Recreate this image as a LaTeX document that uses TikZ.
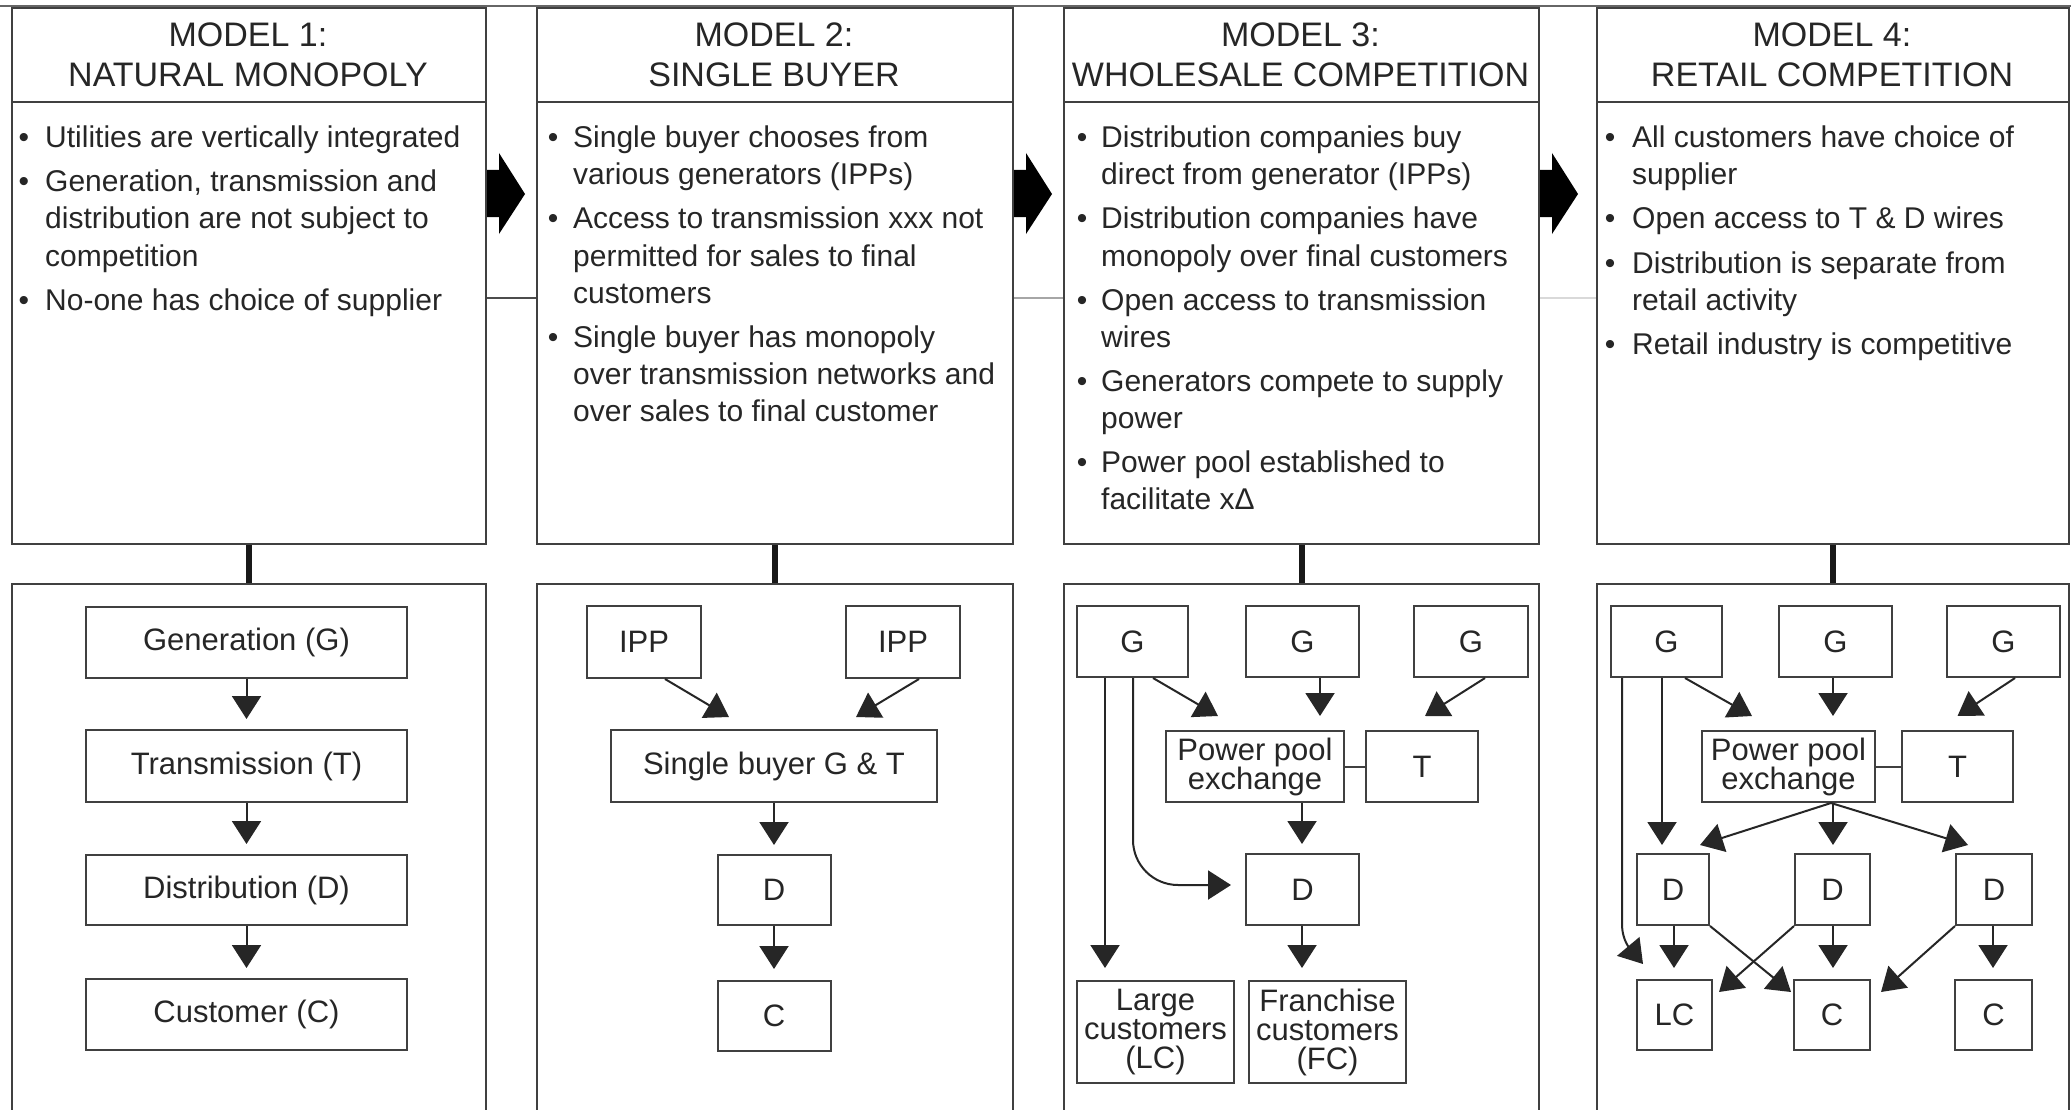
\documentclass[tikz,border=0pt]{standalone}
\usepackage{fontspec}
\setmainfont{Liberation Sans}
\usetikzlibrary{arrows.meta,calc}
\begin{document}
\begin{tikzpicture}[x=1pt,y=-1pt,
  ln/.style={draw=black!75, line width=2pt},
  panel/.style={ln, inner sep=0pt, anchor=north west},
  hdr/.style={anchor=base, inner sep=0pt, text=black!85, font=\fontsize{34}{40}\selectfont},
  itm/.style={anchor=base west, inner sep=0pt, text=black!85, font=\fontsize{30}{37}\selectfont},
  bul/.style={anchor=base, inner sep=0pt, text=black!85, font=\fontsize{30}{37}\selectfont},
  bx/.style={ln, inner sep=0pt, text=black!85, align=center, font=\fontsize{31}{29}\selectfont},
  arr/.style={draw=black!85, line width=2pt, -{Triangle[length=23pt,width=29pt]}},
  thickc/.style={draw=black!90, line width=6pt}
]
\useasboundingbox (0,0) rectangle (2071,1110);
\clip (0,0) rectangle (2071,1110);
\fill[white] (0,0) rectangle (2071,1110);

% top line
\draw[black!60, line width=2pt] (0,6) -- (2071,6);

% panels
\node[panel, minimum width=474, minimum height=536] (m1top) at (11,7) {};
\node[panel, minimum width=476, minimum height=536] (m2top) at (536,7) {};
\node[panel, minimum width=475, minimum height=536] (m3top) at (1063,7) {};
\node[panel, minimum width=472, minimum height=536] (m4top) at (1596,7) {};
\node[panel, minimum width=474, minimum height=545] (m1bot) at (11,583) {};
\node[panel, minimum width=476, minimum height=545] (m2bot) at (536,583) {};
\node[panel, minimum width=475, minimum height=545] (m3bot) at (1063,583) {};
\node[panel, minimum width=472, minimum height=545] (m4bot) at (1596,583) {};

% header dividers
\foreach \p in {m1top,m2top,m3top,m4top}
  \draw[ln] ([yshift=-95pt]\p.north west) -- ([yshift=-95pt]\p.north east);

% connectors top -> bottom
\foreach \i in {1,2,3,4}
  \draw[thickc] (m\i top.south) -- (m\i bot.north);

% horizontal links between panels
\draw[line width=2pt, black!70] ([yshift=-22pt]m1top.east) -- ([yshift=-22pt]m2top.west);
\draw[line width=2pt, black!35] ([yshift=-22pt]m2top.east) -- ([yshift=-22pt]m3top.west);
\draw[line width=2pt, black!15] ([yshift=-22pt]m3top.east) -- ([yshift=-22pt]m4top.west);

% block arrows
\foreach \r in {485,1012,1538}
  \fill[black] (\r+2,170) -- (\r+14,170) -- (\r+14,153) -- (\r+40,194) -- (\r+14,234) -- (\r+14,217) -- (\r+2,217) -- cycle;

% headers
\node[hdr] (m1h) at (248,47) {\parbox[t]{470pt}{\centering MODEL 1:\\NATURAL MONOPOLY}};
\node[hdr] (m2h) at (774,47) {\parbox[t]{470pt}{\centering MODEL 2:\\SINGLE BUYER}};
\node[hdr] (m3h) at (1300.5,47) {\parbox[t]{470pt}{\centering MODEL 3:\\WHOLESALE COMPETITION}};
\node[hdr] (m4h) at (1832,47) {\parbox[t]{470pt}{\centering MODEL 4:\\RETAIL COMPETITION}};

% bullets model 1
\node[bul] (m1b1) at (24,148) {•};
\node[itm] (m1i1) at (45,148) {\parbox[t]{460pt}{\raggedright Utilities are vertically integrated}};
\node[bul] (m1b2) at (24,192) {•};
\node[itm] (m1i2) at (45,192) {\parbox[t]{460pt}{\raggedright Generation, transmission and\\distribution are not subject to\\competition}};
\node[bul] (m1b3) at (24,310) {•};
\node[itm] (m1i3) at (45,310) {\parbox[t]{460pt}{\raggedright No-one has choice of supplier}};

% bullets model 2
\node[bul] (m2b1) at (553,148) {•};
\node[itm] (m2i1) at (573,148) {\parbox[t]{460pt}{\raggedright Single buyer chooses from\\various generators (IPPs)}};
\node[bul] (m2b2) at (553,229) {•};
\node[itm] (m2i2) at (573,229) {\parbox[t]{460pt}{\raggedright Access to transmission xxx not\\permitted for sales to final\\customers}};
\node[bul] (m2b3) at (553,347) {•};
\node[itm] (m2i3) at (573,347) {\parbox[t]{460pt}{\raggedright Single buyer has monopoly\\over transmission networks and\\over sales to final customer}};

% bullets model 3
\node[bul] (m3b1) at (1082,148) {•};
\node[itm] (m3i1) at (1101,148) {\parbox[t]{460pt}{\raggedright Distribution companies buy\\direct from generator (IPPs)}};
\node[bul] (m3b2) at (1082,229) {•};
\node[itm] (m3i2) at (1101,229) {\parbox[t]{460pt}{\raggedright Distribution companies have\\monopoly over final customers}};
\node[bul] (m3b3) at (1082,310) {•};
\node[itm] (m3i3) at (1101,310) {\parbox[t]{460pt}{\raggedright Open access to transmission\\wires}};
\node[bul] (m3b4) at (1082,391) {•};
\node[itm] (m3i4) at (1101,391) {\parbox[t]{460pt}{\raggedright Generators compete to supply\\power}};
\node[bul] (m3b5) at (1082,472) {•};
\node[itm] (m3i5) at (1101,472) {\parbox[t]{460pt}{\raggedright Power pool established to\\facilitate xΔ}};

% bullets model 4
\node[bul] (m4b1) at (1610,148) {•};
\node[itm] (m4i1) at (1632,148) {\parbox[t]{430pt}{\raggedright All customers have choice of\\supplier}};
\node[bul] (m4b2) at (1610,229) {•};
\node[itm] (m4i2) at (1632,229) {\parbox[t]{430pt}{\raggedright Open access to T \& D wires}};
\node[bul] (m4b3) at (1610,273) {•};
\node[itm] (m4i3) at (1632,273) {\parbox[t]{430pt}{\raggedright Distribution is separate from\\retail activity}};
\node[bul] (m4b4) at (1610,354) {•};
\node[itm] (m4i4) at (1632,354) {\parbox[t]{430pt}{\raggedright Retail industry is competitive}};

% ---------- Model 1 diagram
\node[bx, minimum width=321, minimum height=71] (m1g) at (246.5,642.5) {Generation (G)};
\node[bx, minimum width=321, minimum height=72] (m1t) at (246.5,766) {Transmission (T)};
\node[bx, minimum width=321, minimum height=70] (m1d) at (246.5,890) {Distribution (D)};
\node[bx, minimum width=321, minimum height=71] (m1c) at (246.5,1014.5) {Customer (C)};
\draw[arr, shorten >=10pt] (m1g.south) -- (m1t.north);
\draw[arr, shorten >=10pt] (m1t.south) -- (m1d.north);
\draw[arr, shorten >=10pt] (m1d.south) -- (m1c.north);

% ---------- Model 2 diagram
\node[bx, minimum width=114, minimum height=72] (m2ipp1) at (644,642) {IPP};
\node[bx, minimum width=114, minimum height=72] (m2ipp2) at (903,642) {IPP};
\node[bx, minimum width=326, minimum height=72] (m2sb) at (774,766) {Single buyer G \& T};
\node[bx, minimum width=113, minimum height=70] (m2d) at (774,890) {D};
\node[bx, minimum width=113, minimum height=70] (m2c) at (774,1016) {C};
\draw[arr] ([xshift=21pt]m2ipp1.south) -- ([xshift=-45pt,yshift=12pt]m2sb.north);
\draw[arr] ([xshift=16pt]m2ipp2.south) -- ([xshift=82pt,yshift=12pt]m2sb.north);
\draw[arr, shorten >=9pt] (m2sb.south) -- (m2d.north);
\draw[arr, shorten >=11pt] (m2d.south) -- (m2c.north);

% ---------- Model 3 diagram
\node[bx, minimum width=111, minimum height=71] (m3g1) at (1132.5,641.5) {G};
\node[bx, minimum width=113, minimum height=71] (m3g2) at (1302.5,641.5) {G};
\node[bx, minimum width=114, minimum height=71] (m3g3) at (1471,641.5) {G};
\node[bx, minimum width=178, minimum height=71] (m3pp) at (1255,766.5) {Power pool\\exchange};
\node[bx, minimum width=112, minimum height=71] (m3t) at (1422,766.5) {T};
\node[bx, minimum width=113, minimum height=71] (m3d) at (1302.5,889.5) {D};
\node[bx, minimum width=157, minimum height=102] (m3lc) at (1155.5,1032) {Large\\customers\\(LC)};
\node[bx, minimum width=157, minimum height=102] (m3fc) at (1327.5,1032) {Franchise\\customers\\(FC)};
\draw[arr] ([xshift=-27.5pt]m3g1.south) -- ([xshift=-50.5pt,yshift=12pt]m3lc.north);
\draw[arr, rounded corners=45pt] ([xshift=0.5pt]m3g1.south) |- ([xshift=-14pt,yshift=4.5pt]m3d.west);
\draw[arr] ([xshift=20.5pt]m3g1.south) -- ([xshift=-37pt,yshift=14pt]m3pp.north);
\draw[arr] ([xshift=17.5pt]m3g2.south) -- ([xshift=65pt,yshift=14pt]m3pp.north);
\draw[arr] ([xshift=14pt]m3g3.south) -- ([xshift=3pt,yshift=14pt]m3t.north);
\draw[ln] (m3pp.east) -- (m3t.west);
\draw[arr] ([xshift=47pt]m3pp.south) -- ([xshift=-0.5pt,yshift=9pt]m3d.north);
\draw[arr] ([xshift=-0.5pt]m3d.south) -- ([xshift=-25.5pt,yshift=12pt]m3fc.north);

% ---------- Model 4 diagram
\node[bx, minimum width=111, minimum height=71] (m4g1) at (1666.5,641.5) {G};
\node[bx, minimum width=113, minimum height=71] (m4g2) at (1835.5,641.5) {G};
\node[bx, minimum width=113, minimum height=71] (m4g3) at (2003.5,641.5) {G};
\node[bx, minimum width=173, minimum height=71] (m4pp) at (1788.5,766.5) {Power pool\\exchange};
\node[bx, minimum width=111, minimum height=71] (m4t) at (1957.5,766.5) {T};
\node[bx, minimum width=72, minimum height=71] (m4d1) at (1673,889.5) {D};
\node[bx, minimum width=75, minimum height=71] (m4d2) at (1832.5,889.5) {D};
\node[bx, minimum width=76, minimum height=71] (m4d3) at (1994,889.5) {D};
\node[bx, minimum width=75, minimum height=70] (m4lc) at (1674.5,1015) {LC};
\node[bx, minimum width=76, minimum height=70] (m4c2) at (1832,1015) {C};
\node[bx, minimum width=77, minimum height=70] (m4c3) at (1993.5,1015) {C};
\draw[arr] ([xshift=-44.5pt]m4g1.south) -- ([xshift=-52.5pt,yshift=55pt]m4lc.north) to[out=-90,in=130] ([xshift=-31.5pt,yshift=15pt]m4lc.north);
\draw[arr] ([xshift=-4.5pt]m4g1.south) -- ([xshift=-11pt,yshift=8pt]m4d1.north);
\draw[arr] ([xshift=18.5pt]m4g1.south) -- ([xshift=-36.5pt,yshift=14pt]m4pp.north);
\draw[arr] ([xshift=-2.5pt]m4g2.south) -- ([xshift=44.5pt,yshift=14pt]m4pp.north);
\draw[arr] ([xshift=11.5pt]m4g3.south) -- ([yshift=14pt]m4t.north);
\draw[ln] (m4pp.east) -- (m4t.west);
\draw[arr] ([xshift=42.5pt]m4pp.south) -- ([xshift=27pt,yshift=8pt]m4d1.north);
\draw[arr] ([xshift=44.5pt]m4pp.south) -- ([xshift=0.5pt,yshift=8pt]m4d2.north);
\draw[arr] ([xshift=42.5pt]m4pp.south) -- ([xshift=-26pt,yshift=8pt]m4d3.north);
\draw[arr] ([xshift=1pt]m4d1.south) -- ([xshift=-0.5pt,yshift=11pt]m4lc.north);
\draw[arr] (m4d1.south east) -- ([xshift=-2pt,yshift=-13pt]m4c2.north west);
\draw[arr] (m4d2.south west) -- ([xshift=6pt,yshift=-13pt]m4lc.north east);
\draw[arr] ([xshift=0.5pt]m4d2.south) -- ([xshift=1pt,yshift=11pt]m4c2.north);
\draw[arr] (m4d3.south west) -- ([xshift=10pt,yshift=-13pt]m4c2.north east);
\draw[arr] ([xshift=-1pt]m4d3.south) -- ([xshift=-0.5pt,yshift=11pt]m4c3.north);
\end{tikzpicture}
\end{document}
